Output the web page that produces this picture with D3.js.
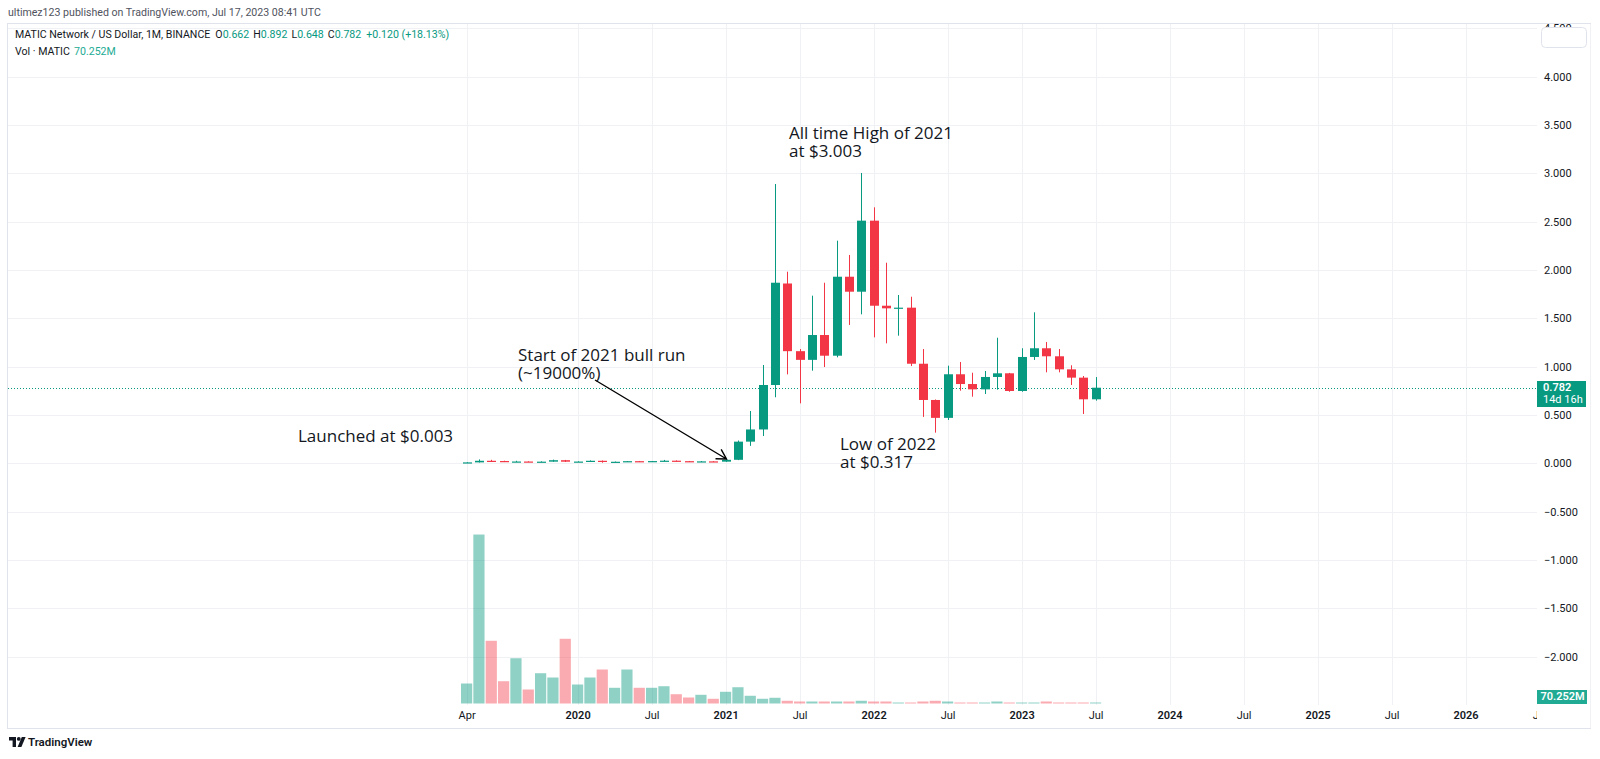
<!DOCTYPE html>
<html>
<head>
<meta charset="utf-8">
<script src="https://cdn.jsdelivr.net/npm/d3@7"></script>
<style>
  html, body { margin: 0; padding: 0; background: #ffffff; }
  svg { display: block; font-family: Roboto, "Open Sans", sans-serif; }
</style>
</head>
<body>
<svg id="chart" width="1600" height="759"></svg>
<script>
// ---------------- DATA ----------------
const months = ["2019-04","2019-05","2019-06","2019-07","2019-08","2019-09","2019-10","2019-11","2019-12",
  "2020-01","2020-02","2020-03","2020-04","2020-05","2020-06","2020-07","2020-08","2020-09","2020-10","2020-11","2020-12",
  "2021-01","2021-02","2021-03","2021-04","2021-05","2021-06","2021-07","2021-08","2021-09","2021-10","2021-11","2021-12",
  "2022-01","2022-02","2022-03","2022-04","2022-05","2022-06","2022-07","2022-08","2022-09","2022-10","2022-11","2022-12",
  "2023-01","2023-02","2023-03","2023-04","2023-05","2023-06","2023-07"];
const openV  = [0.0030,0.0095,0.0260,0.0235,0.0180,0.0185,0.0160,0.0170,0.0320,
  0.0165,0.0180,0.0260,0.0150,0.0160,0.0220,0.0150,0.0230,0.0270,0.0220,0.0150,0.0200,
  0.0170,0.0360,0.2240,0.3500,0.8100,1.8600,1.1600,1.0700,1.3270,1.1130,1.9300,1.7750,
  2.5100,1.6300,1.6030,1.6100,1.0300,0.6550,0.4700,0.9210,0.8200,0.7650,0.8930,0.9310,
  0.7480,1.1000,1.1900,1.1070,0.9720,0.8860,0.6620];
const highV  = [0.0105,0.0400,0.0360,0.0270,0.0260,0.0210,0.0200,0.0380,0.0350,
  0.0210,0.0300,0.0290,0.0180,0.0230,0.0240,0.0240,0.0350,0.0300,0.0240,0.0230,0.0230,
  0.0460,0.2360,0.5410,1.0170,2.8890,1.9820,1.1820,1.7340,1.8680,2.3030,2.1550,3.0030,
  2.6480,2.0750,1.7410,1.7230,1.1820,0.6600,1.0100,1.0480,0.9370,0.9550,1.2990,0.9350,
  1.1900,1.5620,1.2550,1.1820,1.0140,0.9030,0.8920];
const lowV   = [0.0026,0.0085,0.0210,0.0130,0.0140,0.0140,0.0120,0.0160,0.0140,
  0.0140,0.0170,0.0060,0.0130,0.0140,0.0140,0.0140,0.0200,0.0180,0.0140,0.0130,0.0140,
  0.0150,0.0330,0.1800,0.2820,0.6830,0.9200,0.6200,0.9580,0.9960,1.0960,1.4310,1.5410,
  1.3030,1.2410,1.3200,1.0060,0.4800,0.3170,0.4480,0.7510,0.6890,0.7170,0.7620,0.7400,
  0.7400,1.0690,0.9410,0.9410,0.8100,0.5100,0.6480];
const closeV = [0.0095,0.0260,0.0235,0.0180,0.0185,0.0160,0.0170,0.0320,0.0165,
  0.0180,0.0260,0.0150,0.0160,0.0220,0.0150,0.0230,0.0270,0.0220,0.0150,0.0200,0.0170,
  0.0360,0.2240,0.3500,0.8100,1.8680,1.1600,1.0700,1.3270,1.1130,1.9300,1.7750,2.5100,
  1.6300,1.6030,1.6100,1.0300,0.6550,0.4700,0.9210,0.8200,0.7650,0.8930,0.9310,0.7480,
  1.1000,1.1900,1.1070,0.9720,0.8860,0.6620,0.7820];
// volume in millions of MATIC
const volumeM = [1400,11830,4390,1560,3170,980,2120,1820,4530,
  1330,1820,2380,1100,2380,1100,1100,1210,650,420,610,330,
  820,1140,540,330,400,190,140,140,140,140,140,190,
  140,140,70,70,140,190,140,70,70,70,140,70,
  70,70,140,70,70,70,70.252];

// time-axis ticks (month index counted from Apr 2019)
const xTickIndex  = [0, 9, 15, 21, 27, 33, 39, 45, 51, 57, 63, 69, 75, 81, 87];
const xTickLabels = ["Apr","2020","Jul","2021","Jul","2022","Jul","2023","Jul","2024","Jul","2025","Jul","2026","Jul"];
const xTickIsYear = [false,true,false,true,false,true,false,true,false,true,false,true,false,true,false];
// price-axis ticks
const priceTicks = [-2,-1.5,-1,-0.5,0,0.5,1,1.5,2,2.5,3,3.5,4,4.5];

const lastPrice = 0.782;
const lastVolumeLabel = "70.252M";
const countdownLabel = "14d 16h";

// annotations: [x, y of first line, lines]
const notes = [
  [789, 134, ["All time High of 2021", "at $3.003"]],
  [518, 356, ["Start of 2021 bull run", "(~19000%)"]],
  [298, 436.5, ["Launched at $0.003"]],
  [840, 445, ["Low of 2022", "at $0.317"]]
];

// ---------------- SETUP ----------------
const svg = d3.select("#chart");
const UP = "#089981", DOWN = "#f23645";
const UPV = "rgba(8,153,129,0.45)", DOWNV = "rgba(242,54,69,0.42)";
const GRID = "#eff1f5";
const plotLeft = 8, plotRight = 1537, frameRight = 1591, frameTop = 23, frameBottom = 728;

const x = d3.scaleLinear().domain([0, 1]).range([466.6, 466.6 + 12.333]);
const y = d3.scaleLinear().domain([0, 4]).range([463.3, 463.3 - 4 * 96.67]);
const yv = d3.scaleLinear().domain([0, 12000]).range([703.5, 532.1]);

// header text
svg.append("text").attr("x", 8).attr("y", 13).attr("dominant-baseline", "middle")
  .attr("font-size", 10.6).attr("fill", "#50535e")
  .text("ultimez123 published on TradingView.com, Jul 17, 2023 08:41 UTC");

// frame
svg.append("rect").attr("x", plotLeft - 0.5).attr("y", frameTop + 0.5)
  .attr("width", frameRight - plotLeft).attr("height", frameBottom - frameTop)
  .attr("fill", "#fff").attr("stroke", "#e0e3eb");

// grid
const gGrid = svg.append("g");
gGrid.selectAll("line.h").data(priceTicks).join("line")
  .attr("x1", plotLeft).attr("x2", plotRight)
  .attr("y1", d => Math.round(y(d)) + 0.5).attr("y2", d => Math.round(y(d)) + 0.5)
  .attr("stroke", GRID);
gGrid.selectAll("line.v").data(xTickIndex).join("line")
  .attr("x1", d => Math.round(x(d)) + 0.5).attr("x2", d => Math.round(x(d)) + 0.5)
  .attr("y1", frameTop + 1).attr("y2", 705)
  .attr("stroke", GRID);

// volume bars
const idx = months.map((m, i) => i);
svg.append("g").selectAll("rect").data(idx).join("rect")
  .attr("x", i => x(i) - 5.6).attr("width", 11.2)
  .attr("y", i => Math.min(yv(volumeM[i]), yv(0) - 1))
  .attr("height", i => Math.max(1, yv(0) - yv(volumeM[i])))
  .attr("fill", i => closeV[i] >= openV[i] ? UPV : DOWNV);

// last price dotted line
svg.append("line").attr("x1", plotLeft).attr("x2", plotRight)
  .attr("y1", Math.round(y(lastPrice)) + 0.5).attr("y2", Math.round(y(lastPrice)) + 0.5)
  .attr("stroke", UP).attr("stroke-width", 1).attr("stroke-dasharray", "1,2");

// candles
const gC = svg.append("g");
gC.selectAll("line").data(idx).join("line")
  .attr("x1", i => Math.round(x(i)) + 0.5).attr("x2", i => Math.round(x(i)) + 0.5)
  .attr("y1", i => y(highV[i])).attr("y2", i => y(lowV[i]))
  .attr("stroke", i => closeV[i] >= openV[i] ? UP : DOWN).attr("stroke-width", 1);
gC.selectAll("rect").data(idx).join("rect")
  .attr("x", i => Math.round(x(i)) + 0.5 - 4.5).attr("width", 9)
  .attr("y", i => Math.min(y(openV[i]), y(closeV[i])))
  .attr("height", i => Math.max(1.2, Math.abs(y(openV[i]) - y(closeV[i]))))
  .attr("fill", i => closeV[i] >= openV[i] ? UP : DOWN);

// x axis labels
const xAxis = d3.axisBottom(x).tickValues(xTickIndex)
  .tickFormat((d, i) => xTickLabels[i]).tickSize(0).tickPadding(0);
const gx = svg.append("g").attr("transform", "translate(0,711)").call(xAxis);
gx.select(".domain").remove();
gx.selectAll("text").attr("font-size", 11).attr("fill", "#131722")
  .attr("font-family", "Roboto, sans-serif")
  .attr("font-weight", (d, i) => xTickIsYear[i] ? 600 : 400);

// price axis panel (covers clipped labels)
svg.append("rect").attr("x", plotRight).attr("y", frameTop + 1).attr("width", frameRight - plotRight - 0.5)
  .attr("height", frameBottom - frameTop - 1).attr("fill", "#fff");
const yAxis = d3.axisRight(y).tickValues(priceTicks).tickFormat(d3.format(".3f")).tickSize(0).tickPadding(0);
const gy = svg.append("g").attr("transform", "translate(1544,0)").call(yAxis);
gy.select(".domain").remove();
gy.selectAll("text").attr("font-size", 11).attr("fill", "#131722").attr("font-family", "Roboto, sans-serif");

// top-right button box
svg.append("rect").attr("x", 1541.5).attr("y", 27.5).attr("width", 45).attr("height", 20).attr("rx", 4)
  .attr("fill", "#fff").attr("stroke", "#e0e3eb");

// last price tag
svg.append("rect").attr("x", plotRight).attr("y", 381).attr("width", 49).attr("height", 26).attr("fill", UP);
svg.append("text").attr("x", 1543).attr("y", 388.5).attr("dominant-baseline", "middle")
  .attr("font-size", 11).attr("font-weight", 600).attr("fill", "#fff").text(d3.format(".3f")(lastPrice));
svg.append("text").attr("x", 1543).attr("y", 400.5).attr("dominant-baseline", "middle")
  .attr("font-size", 11).attr("fill", "#fff").text(countdownLabel);

// volume tag
svg.append("rect").attr("x", plotRight).attr("y", 690).attr("width", 50).attr("height", 14).attr("fill", "#22ab94");
svg.append("text").attr("x", 1540.5).attr("y", 697.5).attr("dominant-baseline", "middle")
  .attr("font-size", 11).attr("font-weight", 600).attr("fill", "#fff").text(lastVolumeLabel);

// legend
const leg1 = svg.append("text").attr("x", 15).attr("y", 35).attr("dominant-baseline", "middle")
  .attr("font-size", 10.6).attr("fill", "#131722");
leg1.append("tspan").text("MATIC Network / US Dollar, 1M, BINANCE");
[["O", openV[51]], ["H", highV[51]], ["L", lowV[51]], ["C", closeV[51]]].forEach(([k, v], j) => {
  leg1.append("tspan").attr("dx", j === 0 ? 5 : 4).text(k);
  leg1.append("tspan").attr("fill", UP).text(d3.format(".3f")(v));
});
leg1.append("tspan").attr("dx", 5).attr("fill", UP).text("+0.120 (+18.13%)");
const leg2 = svg.append("text").attr("x", 15).attr("y", 51.5).attr("dominant-baseline", "middle")
  .attr("font-size", 10.6).attr("fill", "#131722");
leg2.append("tspan").text("Vol · MATIC");
leg2.append("tspan").attr("x", 74).attr("fill", "#22ab94").text(lastVolumeLabel);

// annotations
const ann = svg.append("g");
notes.forEach(([tx, ty, lines]) => {
  const t = ann.append("text").attr("x", tx).attr("y", ty).attr("dominant-baseline", "middle")
    .style("font-family", "'Open Sans', sans-serif").style("font-size", "17px").attr("fill", "#131722");
  lines.forEach((s, k) => t.append("tspan").attr("x", tx).attr("dy", k === 0 ? 0 : 18).text(s));
});

// arrow
const tip = [726.5, 459], start = [595, 380];
const ang = Math.atan2(tip[1] - start[1], tip[0] - start[0]);
const L = 11, spread = Math.PI / 6;
svg.append("path")
  .attr("d", `M${start[0]},${start[1]} L${tip[0]},${tip[1]}` +
    ` M${tip[0] - L * Math.cos(ang - spread)},${tip[1] - L * Math.sin(ang - spread)} L${tip[0]},${tip[1]}` +
    ` L${tip[0] - L * Math.cos(ang + spread)},${tip[1] - L * Math.sin(ang + spread)}`)
  .attr("fill", "none").attr("stroke", "#000").attr("stroke-width", 1.4);

// TradingView logo (bottom-left)
const logo = svg.append("g").attr("transform", "translate(9,737)");
logo.append("path").attr("d", "M0,0 H7 V10 H3.6 V3.4 H0 Z").attr("fill", "#131722");
logo.append("circle").attr("cx", 9.8).attr("cy", 1.9).attr("r", 1.9).attr("fill", "#131722");
logo.append("path").attr("d", "M12.8,0 H16.6 L12.4,10 H8.6 Z").attr("fill", "#131722");
svg.append("text").attr("x", 28).attr("y", 743).attr("dominant-baseline", "middle")
  .attr("font-size", 11.5).attr("font-weight", 600).attr("fill", "#131722").text("TradingView");
</script>
</body>
</html>
